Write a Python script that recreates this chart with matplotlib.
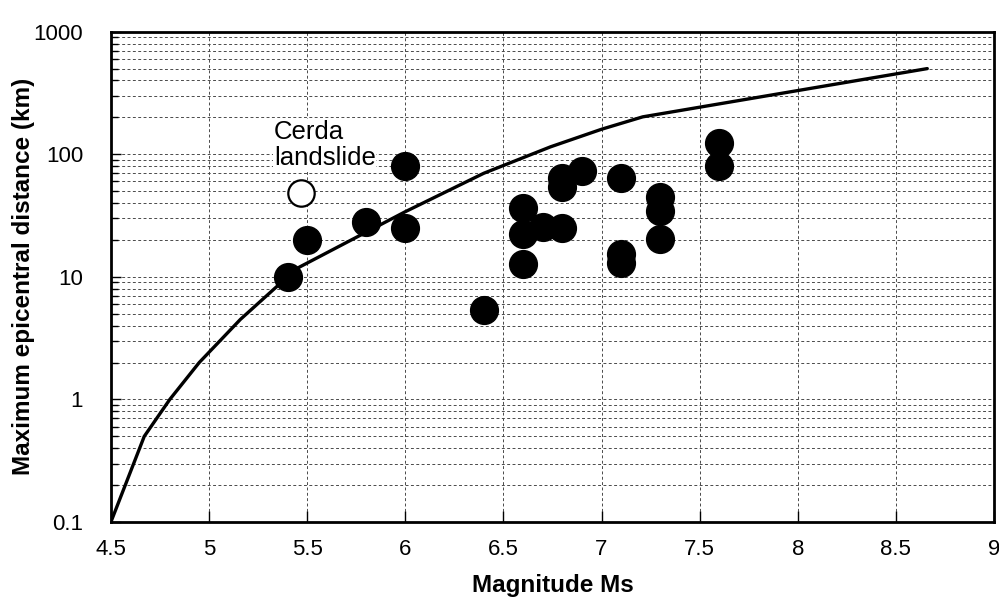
import numpy as np
import matplotlib
matplotlib.use("Agg")
import matplotlib.pyplot as plt
from matplotlib.ticker import LogLocator, NullFormatter, FixedLocator

plt.rcParams['font.family'] = ['Liberation Sans', 'DejaVu Sans']

# upper-bound curve: magnitude vs maximum epicentral distance
curve_ms = [4.5, 4.67, 4.8, 4.95, 5.16, 5.4, 5.46, 6.0, 6.4, 6.74, 7.0, 7.21, 8.66]
curve_km = [0.1, 0.5, 1.0, 2.0, 4.5, 10, 12, 34, 70, 115, 160, 202, 500]

# observed landslide-triggering earthquakes
quake_ms = [5.4, 5.5, 5.8, 6.0, 6.0, 6.4, 6.6, 6.6, 6.6, 6.7, 6.8, 6.8, 6.8,
            6.9, 7.1, 7.1, 7.1, 7.3, 7.3, 7.3, 7.6, 7.6]
quake_km = [10, 20, 28, 80, 25, 5.4, 36.6, 22.4, 12.8, 25.6, 25, 64, 54,
            73, 64, 15.4, 13, 45, 34.6, 20.4, 124, 80]

cerda_ms = 5.47
cerda_km = 48.5

xticks = [4.5, 5, 5.5, 6, 6.5, 7, 7.5, 8, 8.5, 9]
xticklabels = ['4.5', '5', '5.5', '6', '6.5', '7', '7.5', '8', '8.5', '9']
yticks = [0.1, 1, 10, 100, 1000]
yticklabels = ['0.1', '1', '10', '100', '1000']

fig = plt.figure(figsize=(9.99, 5.98), dpi=100)
ax = fig.add_axes([0.111, 0.127, 0.884, 0.820])

ax.set_yscale('log')
ax.set_xlim(4.5, 9)
ax.set_ylim(0.1, 1000)

ax.xaxis.set_major_locator(FixedLocator(xticks))
ax.set_xticklabels(xticklabels)
ax.yaxis.set_major_locator(FixedLocator(yticks))
ax.set_yticklabels(yticklabels)
ax.yaxis.set_minor_locator(LogLocator(base=10, subs=np.arange(2, 10)))
ax.yaxis.set_minor_formatter(NullFormatter())

grid_kw = dict(color='#4a4a4a', linestyle=(0, (3, 2.5)), linewidth=0.7)
ax.grid(True, which='major', axis='both', **grid_kw)
ax.grid(True, which='minor', axis='y', **grid_kw)
ax.set_axisbelow(True)

ax.plot(curve_ms, curve_km, color='black', linewidth=2.4, solid_capstyle='round', zorder=3)
ax.plot(quake_ms, quake_km, 'o', color='black', markersize=20, zorder=4)
ax.plot([cerda_ms], [cerda_km], 'o', markerfacecolor='white', markeredgecolor='black',
        markersize=19, markeredgewidth=1.6, zorder=4)

ax.text(5.33, 192, 'Cerda\nlandslide', fontsize=18.5, ha='left', va='top',
        linespacing=1.15, zorder=5,
        bbox=dict(facecolor='white', edgecolor='none', pad=0.5))

for side in ax.spines.values():
    side.set_linewidth(2.0)
    side.set_color('black')

ax.tick_params(axis='x', which='major', direction='in', length=8, width=1,
               labelsize=16, pad=12, top=False)
ax.tick_params(axis='y', which='major', direction='in', length=7, width=1,
               labelsize=16, pad=20, right=False)
ax.tick_params(axis='y', which='minor', direction='in', length=5, width=1, right=False)

ax.set_xlabel('Magnitude Ms', fontsize=17.5, fontweight='bold', labelpad=10)
ax.set_ylabel('Maximum epicentral distance (km)', fontsize=17.5, fontweight='bold')
ax.yaxis.set_label_coords(-0.086, 0.5)

fig.savefig('out.png', dpi=100)
